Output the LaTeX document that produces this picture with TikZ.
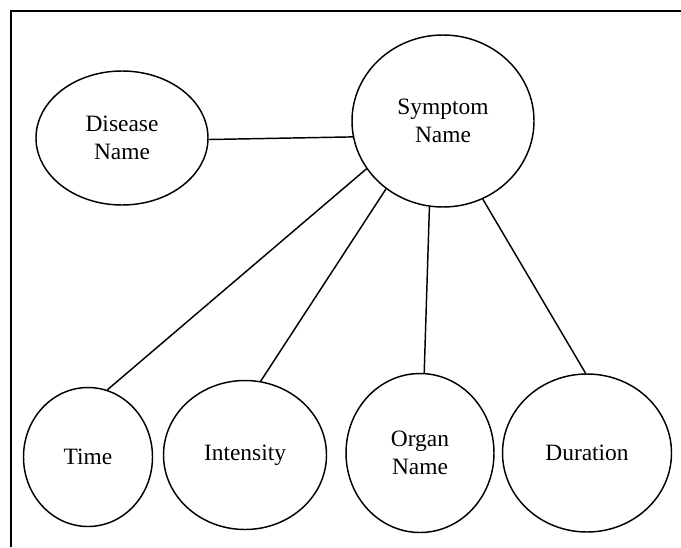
\documentclass[tikz,border=0pt]{standalone}
\usepackage{fontspec}
\setmainfont{Liberation Serif}
\usetikzlibrary{shapes,positioning}

\begin{document}
\begin{tikzpicture}[x=0.018cm,y=-0.018cm,
    attr/.style={ellipse,draw,line width=0.75pt,inner sep=0pt,align=center,
      font=\fontsize{12}{14}\selectfont}]
  \useasboundingbox (0,0) rectangle (681,547);
  \draw[line width=1pt] (681,11) -- (11,11) -- (11,547);

  \node[attr,minimum width=172*0.018cm,minimum height=134*0.018cm] (disease) at (122,138) {Disease\\Name};
  \node[attr,minimum width=182*0.018cm,minimum height=172*0.018cm] (symptom) at (443,121) {Symptom\\Name};
  \node[attr,minimum width=129*0.018cm,minimum height=139*0.018cm] (time) at (88,457) {Time};
  \node[attr,minimum width=163*0.018cm,minimum height=149*0.018cm] (intensity) at (245,455) {Intensity};
  \node[attr,minimum width=148*0.018cm,minimum height=159*0.018cm] (organ) at (420,453) {Organ\\Name};
  \node[attr,minimum width=169*0.018cm,minimum height=158*0.018cm] (duration) at (587,453) {Duration};

  \draw[line width=0.75pt] (disease.359) -- (symptom.190);
  \draw[line width=0.75pt] (symptom.212) -- (time.74);
  \draw[line width=0.75pt] (symptom.230) -- (intensity.78);
  \draw[line width=0.75pt] (symptom.261) -- (organ.87);
  \draw[line width=0.75pt] (symptom.297) -- (duration.91);

\end{tikzpicture}
\end{document}
